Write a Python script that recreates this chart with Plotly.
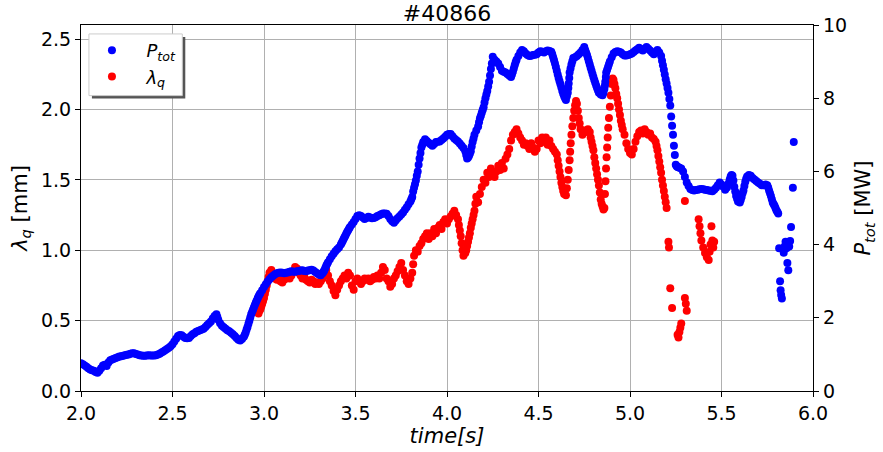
import plotly.graph_objects as go

# ---- P_tot (MW), right axis: (time [s], value) readings ----
ptot_pairs = [
    (2.00,0.76),(2.01,0.73),(2.02,0.70),(2.03,0.66),(2.04,0.62),(2.05,0.59),(2.06,0.57),(2.07,0.55),(2.08,0.52),(2.09,0.50),
    (2.10,0.55),(2.11,0.62),(2.12,0.70),(2.13,0.72),(2.14,0.68),(2.15,0.78),(2.16,0.84),(2.17,0.86),(2.18,0.88),(2.19,0.90),
    (2.20,0.92),(2.21,0.94),(2.22,0.95),(2.23,0.96),(2.24,0.98),(2.25,0.99),(2.26,1.00),(2.27,1.02),(2.28,1.03),(2.29,1.03),
    (2.30,1.01),(2.31,1.00),(2.32,0.98),(2.33,0.97),(2.34,0.96),(2.35,0.96),(2.36,0.97),(2.37,0.98),(2.38,0.97),(2.39,0.97),
    (2.40,0.97),(2.41,0.98),(2.42,1.00),(2.43,1.02),(2.44,1.05),(2.45,1.08),(2.46,1.11),(2.47,1.15),(2.48,1.18),(2.49,1.22),
    (2.50,1.28),(2.51,1.35),(2.52,1.43),(2.53,1.50),(2.54,1.53),(2.55,1.52),(2.56,1.48),(2.57,1.45),(2.58,1.44),(2.59,1.45),
    (2.60,1.50),(2.61,1.55),(2.62,1.58),(2.63,1.62),(2.64,1.64),(2.65,1.66),(2.66,1.68),(2.67,1.70),(2.68,1.75),(2.69,1.80),
    (2.70,1.85),(2.71,1.90),(2.72,1.98),(2.73,2.05),(2.74,2.10),(2.745,2.02),(2.75,1.95),(2.76,1.85),(2.77,1.78),(2.78,1.74),
    (2.79,1.70),(2.80,1.66),(2.81,1.63),(2.82,1.59),(2.83,1.55),(2.84,1.50),(2.85,1.45),(2.86,1.40),(2.87,1.38),(2.88,1.42),
    (2.89,1.48),(2.895,1.54),(2.90,1.60),(2.905,1.68),(2.91,1.75),(2.915,1.84),(2.92,1.92),(2.925,2.01),(2.93,2.10),(2.935,2.16),
    (2.94,2.22),(2.945,2.29),(2.95,2.35),(2.955,2.41),(2.96,2.47),(2.965,2.53),(2.97,2.58),(2.975,2.63),(2.98,2.67),(2.99,2.75),
    (3.00,2.84),(3.01,2.92),(3.02,2.99),(3.03,3.05),(3.04,3.11),(3.05,3.15),(3.06,3.19),(3.07,3.22),(3.08,3.23),(3.09,3.24),
    (3.10,3.23),(3.11,3.22),(3.12,3.23),(3.13,3.24),(3.14,3.26),(3.15,3.27),(3.16,3.26),(3.17,3.26),(3.18,3.27),(3.19,3.28),
    (3.20,3.29),(3.21,3.30),(3.22,3.28),(3.23,3.27),(3.24,3.29),(3.25,3.30),(3.26,3.31),(3.27,3.29),(3.28,3.25),(3.29,3.22),
    (3.30,3.18),(3.31,3.16),(3.32,3.22),(3.325,3.26),(3.33,3.30),(3.335,3.36),(3.34,3.42),(3.345,3.47),(3.35,3.52),(3.36,3.60),
    (3.37,3.68),(3.38,3.75),(3.39,3.82),(3.40,3.87),(3.41,3.92),(3.42,4.00),(3.425,4.05),(3.43,4.10),(3.435,4.15),(3.44,4.20),
    (3.445,4.25),(3.45,4.30),(3.455,4.35),(3.46,4.39),(3.465,4.44),(3.47,4.48),(3.48,4.55),(3.49,4.62),(3.50,4.70),(3.51,4.78),
    (3.52,4.80),(3.53,4.78),(3.54,4.74),(3.55,4.70),(3.56,4.73),(3.57,4.76),(3.58,4.74),(3.59,4.72),(3.60,4.73),(3.61,4.75),
    (3.62,4.78),(3.63,4.80),(3.64,4.83),(3.65,4.85),(3.66,4.85),(3.67,4.84),(3.68,4.78),(3.69,4.70),(3.70,4.64),(3.71,4.60),
    (3.72,4.66),(3.73,4.72),(3.74,4.77),(3.75,4.82),(3.76,4.88),(3.77,4.95),(3.78,5.02),(3.79,5.10),(3.80,5.18),(3.805,5.24),
    (3.81,5.30),(3.815,5.45),(3.82,5.55),(3.825,5.65),(3.83,5.75),(3.835,5.88),(3.84,6.00),(3.845,6.18),(3.85,6.35),(3.855,6.50),
    (3.86,6.65),(3.865,6.73),(3.87,6.80),(3.88,6.88),(3.89,6.83),(3.90,6.78),(3.91,6.74),(3.92,6.70),(3.93,6.75),(3.94,6.80),
    (3.95,6.81),(3.96,6.82),(3.97,6.86),(3.98,6.90),(3.99,6.95),(4.00,7.00),(4.01,7.02),(4.02,7.02),(4.03,6.96),(4.04,6.90),
    (4.05,6.86),(4.06,6.82),(4.07,6.76),(4.08,6.70),(4.09,6.64),(4.10,6.55),(4.105,6.45),(4.11,6.35),(4.115,6.38),(4.12,6.42),
    (4.125,6.48),(4.13,6.55),(4.135,6.68),(4.14,6.80),(4.145,6.90),(4.15,7.00),(4.16,7.12),(4.17,7.23),(4.175,7.34),(4.18,7.45),
    (4.185,7.52),(4.19,7.60),(4.195,7.68),(4.20,7.75),(4.205,7.88),(4.21,8.00),(4.215,8.10),(4.22,8.20),(4.225,8.32),(4.23,8.45),
    (4.235,8.62),(4.24,8.80),(4.245,8.95),(4.25,9.13),(4.26,9.05),(4.27,9.00),(4.28,8.95),(4.29,8.85),(4.30,8.75),(4.31,8.72),
    (4.32,8.70),(4.33,8.66),(4.34,8.62),(4.35,8.58),(4.355,8.65),(4.36,8.72),(4.365,8.81),(4.37,8.90),(4.375,8.98),(4.38,9.05),
    (4.39,9.15),(4.40,9.25),(4.41,9.32),(4.42,9.28),(4.43,9.22),(4.44,9.18),(4.45,9.15),(4.46,9.16),(4.47,9.18),(4.48,9.19),
    (4.49,9.20),(4.50,9.25),(4.51,9.28),(4.52,9.27),(4.53,9.25),(4.54,9.28),(4.55,9.30),(4.56,9.29),(4.57,9.27),(4.575,9.20),
    (4.58,9.12),(4.585,9.04),(4.59,8.95),(4.595,8.85),(4.60,8.75),(4.605,8.65),(4.61,8.55),(4.615,8.46),(4.62,8.38),(4.625,8.29),
    (4.63,8.20),(4.635,8.12),(4.64,8.05),(4.645,8.00),(4.65,7.95),(4.655,8.05),(4.66,8.15),(4.663,8.28),(4.665,8.40),(4.668,8.55),
    (4.67,8.70),(4.675,8.81),(4.68,8.92),(4.685,9.01),(4.69,9.10),(4.70,9.12),(4.71,9.15),(4.72,9.20),(4.73,9.25),(4.74,9.32),
    (4.75,9.40),(4.755,9.32),(4.76,9.25),(4.765,9.18),(4.77,9.10),(4.775,9.01),(4.78,8.92),(4.785,8.83),(4.79,8.75),(4.795,8.66),
    (4.80,8.58),(4.805,8.50),(4.81,8.42),(4.815,8.35),(4.82,8.28),(4.825,8.21),(4.83,8.15),(4.84,8.10),(4.85,8.08),(4.855,8.15),
    (4.86,8.25),(4.863,8.35),(4.865,8.45),(4.868,8.58),(4.87,8.70),(4.875,8.78),(4.88,8.85),(4.885,8.93),(4.89,9.00),(4.90,9.12),
    (4.91,9.22),(4.92,9.26),(4.93,9.28),(4.94,9.27),(4.95,9.25),(4.96,9.20),(4.97,9.17),(4.98,9.17),(4.99,9.18),(5.00,9.20),
    (5.01,9.22),(5.02,9.26),(5.03,9.30),(5.04,9.34),(5.05,9.38),(5.06,9.33),(5.07,9.30),(5.08,9.35),(5.09,9.40),(5.10,9.35),
    (5.11,9.30),(5.12,9.25),(5.13,9.20),(5.14,9.26),(5.15,9.32),(5.16,9.25),(5.17,9.15),(5.175,9.02),(5.18,8.90),(5.185,8.78),
    (5.19,8.65),(5.195,8.52),(5.20,8.40),(5.205,8.28),(5.21,8.15),(5.215,7.98),(5.22,7.80),(5.225,7.50),(5.23,7.25),(5.235,7.00),
    (5.24,6.70),(5.245,6.45),(5.25,6.18),(5.255,6.14),(5.26,6.12),(5.265,6.11),(5.27,6.10),(5.28,6.08),(5.29,6.00),(5.30,5.85),
    (5.31,5.70),(5.32,5.60),(5.33,5.52),(5.34,5.49),(5.35,5.48),(5.36,5.49),(5.37,5.50),(5.38,5.51),(5.39,5.52),(5.40,5.51),
    (5.41,5.50),(5.42,5.49),(5.43,5.48),(5.44,5.47),(5.45,5.46),(5.46,5.50),(5.47,5.55),(5.48,5.62),(5.49,5.70),(5.50,5.64),
    (5.51,5.58),(5.52,5.50),(5.53,5.56),(5.54,5.68),(5.545,5.78),(5.55,5.86),(5.555,5.90),(5.56,5.88),(5.565,5.75),(5.57,5.58),
    (5.575,5.45),(5.58,5.33),(5.585,5.25),(5.59,5.18),(5.60,5.15),(5.605,5.22),(5.61,5.30),(5.615,5.40),(5.62,5.48),(5.625,5.60),
    (5.63,5.72),(5.635,5.80),(5.64,5.86),(5.65,5.90),(5.66,5.88),(5.67,5.82),(5.68,5.78),(5.69,5.74),(5.70,5.70),(5.71,5.66),
    (5.72,5.62),(5.73,5.62),(5.74,5.64),(5.75,5.62),(5.755,5.56),(5.76,5.48),(5.765,5.40),(5.77,5.33),(5.775,5.24),(5.78,5.15),
    (5.785,5.10),(5.79,5.06),(5.795,5.00),(5.80,4.94),(5.805,4.90),(5.81,4.85),
    (5.815,3.90),(5.82,3.00),(5.823,2.75),(5.826,2.62),(5.83,2.53),(5.84,3.78),(5.845,3.95),(5.85,4.08),(5.855,3.90),(5.86,3.50),
    (5.865,3.30),(5.87,3.95),(5.875,4.10),(5.88,4.48),(5.89,5.55),(5.895,6.80),
]
ptot_t = [p[0] for p in ptot_pairs]
ptot_mw = [p[1] for p in ptot_pairs]

# ---- lambda_q (mm), left axis: (time [s], value) readings ----
lam_pairs = [
    (2.97,0.55),(2.975,0.57),(2.98,0.58),(2.985,0.60),(2.99,0.62),(2.995,0.64),(3.00,0.66),(3.005,0.69),(3.01,0.72),(3.015,0.75),
    (3.02,0.78),(3.025,0.81),(3.03,0.84),(3.04,0.86),(3.05,0.82),(3.06,0.80),(3.07,0.79),(3.08,0.80),(3.09,0.78),(3.10,0.77),
    (3.11,0.79),(3.12,0.80),(3.13,0.81),(3.14,0.80),(3.15,0.82),(3.16,0.85),(3.17,0.88),(3.18,0.87),(3.19,0.84),(3.20,0.82),
    (3.21,0.80),(3.22,0.81),(3.23,0.79),(3.24,0.78),(3.25,0.77),(3.26,0.79),(3.27,0.78),(3.28,0.76),(3.29,0.77),(3.30,0.76),
    (3.31,0.78),(3.32,0.80),(3.33,0.83),(3.34,0.86),(3.35,0.82),(3.36,0.78),(3.37,0.75),(3.38,0.71),(3.39,0.68),(3.40,0.72),
    (3.41,0.75),(3.42,0.78),(3.43,0.80),(3.44,0.82),(3.45,0.80),(3.46,0.84),(3.47,0.82),(3.48,0.75),(3.49,0.72),(3.50,0.78),
    (3.51,0.80),(3.52,0.78),(3.53,0.76),(3.54,0.78),(3.55,0.80),(3.56,0.79),(3.57,0.80),(3.58,0.78),(3.59,0.79),(3.60,0.81),
    (3.61,0.80),(3.62,0.82),(3.63,0.80),(3.64,0.84),(3.65,0.88),(3.66,0.86),(3.67,0.80),(3.68,0.78),(3.69,0.74),(3.70,0.76),
    (3.71,0.80),(3.72,0.82),(3.73,0.85),(3.74,0.88),(3.75,0.91),(3.76,0.86),(3.77,0.82),(3.78,0.78),(3.79,0.76),(3.80,0.80),
    (3.81,0.84),(3.815,0.90),(3.82,0.96),(3.83,1.00),(3.84,0.99),(3.85,1.03),(3.86,1.05),(3.87,1.08),(3.88,1.10),(3.89,1.12),
    (3.90,1.08),(3.91,1.12),(3.92,1.10),(3.93,1.15),(3.94,1.12),(3.95,1.16),(3.96,1.18),(3.97,1.15),(3.98,1.20),(3.99,1.22),
    (4.00,1.19),(4.01,1.22),(4.02,1.24),(4.03,1.26),(4.04,1.28),(4.05,1.25),(4.06,1.22),(4.065,1.18),(4.07,1.14),(4.075,1.10),
    (4.08,1.05),(4.085,1.00),(4.09,0.96),(4.10,0.98),(4.105,1.00),(4.11,1.03),(4.115,1.06),(4.12,1.09),(4.125,1.12),(4.13,1.16),
    (4.135,1.19),(4.14,1.22),(4.145,1.25),(4.15,1.28),(4.155,1.33),(4.16,1.38),(4.17,1.34),(4.18,1.40),(4.19,1.45),(4.20,1.50),
    (4.21,1.48),(4.22,1.55),(4.23,1.52),(4.24,1.58),(4.25,1.55),(4.26,1.52),(4.27,1.56),(4.28,1.60),(4.29,1.57),(4.30,1.62),
    (4.31,1.58),(4.32,1.65),(4.33,1.68),(4.34,1.72),(4.35,1.78),(4.36,1.82),(4.37,1.84),(4.38,1.86),(4.39,1.83),(4.40,1.80),
    (4.41,1.78),(4.42,1.75),(4.43,1.76),(4.44,1.74),(4.45,1.72),(4.46,1.76),(4.47,1.73),(4.48,1.70),(4.49,1.72),(4.50,1.78),
    (4.51,1.76),(4.52,1.80),(4.53,1.77),(4.54,1.80),(4.55,1.75),(4.56,1.78),(4.57,1.74),(4.58,1.72),(4.59,1.70),(4.60,1.68),
    (4.605,1.64),(4.61,1.60),(4.615,1.56),(4.62,1.52),(4.625,1.48),(4.63,1.45),(4.635,1.42),(4.64,1.40),(4.65,1.39),(4.655,1.44),
    (4.66,1.50),(4.665,1.57),(4.67,1.64),(4.673,1.70),(4.676,1.76),(4.68,1.82),(4.685,1.88),(4.69,1.94),(4.695,1.99),(4.70,2.03),
    (4.705,2.06),(4.71,2.04),(4.715,1.99),(4.72,1.94),(4.725,1.90),(4.73,1.86),(4.74,1.82),(4.75,1.85),(4.76,1.84),(4.77,1.86),
    (4.78,1.84),(4.785,1.80),(4.79,1.77),(4.795,1.74),(4.80,1.71),(4.805,1.66),(4.81,1.62),(4.815,1.58),(4.82,1.54),(4.825,1.50),
    (4.83,1.46),(4.835,1.41),(4.84,1.36),(4.845,1.33),(4.85,1.31),(4.855,1.29),(4.86,1.30),(4.863,1.40),(4.866,1.49),(4.869,1.58),
    (4.872,1.66),(4.875,1.73),(4.878,1.80),(4.881,1.87),(4.885,1.94),(4.89,2.02),(4.895,2.10),(4.90,2.18),(4.905,2.22),(4.91,2.21),
    (4.915,2.18),(4.92,2.15),(4.925,2.11),(4.93,2.08),(4.935,2.04),(4.94,2.00),(4.945,1.96),(4.95,1.92),(4.955,1.89),(4.96,1.86),
    (4.97,1.82),(4.98,1.76),(4.99,1.72),(5.00,1.69),(5.01,1.68),(5.02,1.72),(5.03,1.77),(5.04,1.81),(5.05,1.84),(5.06,1.85),
    (5.07,1.83),(5.08,1.86),(5.09,1.84),(5.10,1.82),(5.11,1.83),(5.12,1.80),(5.13,1.79),(5.14,1.77),(5.145,1.74),(5.15,1.71),
    (5.155,1.67),(5.16,1.63),(5.165,1.59),(5.17,1.55),(5.175,1.50),(5.18,1.46),(5.185,1.42),(5.19,1.38),(5.195,1.34),(5.20,1.30),
    (5.21,1.06),(5.213,1.02),(5.22,0.73),(5.23,0.59),(5.26,0.40),(5.265,0.38),(5.27,0.42),(5.275,0.45),(5.28,0.48),
    (5.30,0.66),(5.305,0.62),(5.31,0.57),(5.30,1.35),
    (5.375,1.22),(5.38,1.17),(5.385,1.12),(5.39,1.07),(5.40,1.02),(5.41,0.98),(5.42,0.95),(5.43,0.93),(5.435,0.99),(5.44,1.04),
    (5.445,1.17),(5.45,1.07),(5.455,1.02),(5.46,1.06),
]
lam_t = [p[0] for p in lam_pairs]
lam_mm = [p[1] for p in lam_pairs]

shot_title = "#40866"
x_ticks = [2.0, 2.5, 3.0, 3.5, 4.0, 4.5, 5.0, 5.5, 6.0]
left_ticks = [0.0, 0.5, 1.0, 1.5, 2.0, 2.5]
right_ticks = [0, 2, 4, 6, 8, 10]

FONT = "DejaVu Sans"
W, H = 883, 452
ML, MR, MT, MB = 81, 65, 25, 59
PW, PH = W - ML - MR, H - MT - MB
TICK_FS, LABEL_FS, TITLE_FS, LEG_FS = 19, 21, 22, 18
MS = 8


def px_x(px):
    return (px - ML) / PW


def px_y(py):
    return (H - MB - py) / PH


fig = go.Figure()
fig.add_trace(go.Scatter(
    x=lam_t, y=lam_mm, mode="markers", name="&nbsp;&nbsp;<i>λ</i><sub><i>q</i></sub>",
    marker=dict(color="#ff0000", size=MS, line=dict(width=0)), yaxis="y", legendrank=2))
fig.add_trace(go.Scatter(
    x=ptot_t, y=ptot_mw, mode="markers", name="&nbsp;&nbsp;<i>P</i><sub><i>tot</i></sub>",
    marker=dict(color="#0000ff", size=MS, line=dict(width=0)), yaxis="y2", legendrank=1))

axis_common = dict(showline=True, linecolor="black", linewidth=1.2, ticks="outside",
                   ticklen=5, tickwidth=1.2, tickcolor="black",
                   tickfont=dict(family=FONT, size=TICK_FS, color="black"), zeroline=False)

fig.update_layout(
    width=W, height=H, margin=dict(l=ML, r=MR, t=MT, b=MB),
    plot_bgcolor="white", paper_bgcolor="white",
    font=dict(family=FONT, size=TICK_FS, color="black"),
    title=dict(text=shot_title, x=0.5, xref="paper", y=1 - 13 / H, yref="container",
               xanchor="center", yanchor="middle", font=dict(family=FONT, size=TITLE_FS)),
    xaxis=dict(range=[2.0, 6.0], tickvals=x_ticks, tickformat=".1f", mirror=True,
               showgrid=True, gridcolor="#b0b0b0", gridwidth=1,
               title=dict(text="<i>time[s]</i>", font=dict(family=FONT, size=LABEL_FS), standoff=1),
               **axis_common),
    yaxis=dict(range=[0, 2.6], tickvals=left_ticks, tickformat=".1f",
               showgrid=True, gridcolor="#b0b0b0", gridwidth=1,
               title=dict(text="<i>λ</i><sub><i>q</i></sub> [mm]", font=dict(family=FONT, size=LABEL_FS), standoff=7),
               **axis_common),
    yaxis2=dict(range=[0, 10], tickvals=right_ticks, overlaying="y", side="right",
                showgrid=False,
                title=dict(text="<i>P</i><sub><i>tot</i></sub> [MW]", font=dict(family=FONT, size=LABEL_FS), standoff=9),
                **axis_common),
    legend=dict(x=px_x(89), y=px_y(32),
                xanchor="left", yanchor="top", bgcolor="rgba(0,0,0,0)", borderwidth=0,
                font=dict(family=FONT, size=LEG_FS), itemsizing="trace", itemwidth=36, tracegroupgap=0),
    showlegend=True,
)

# legend frame with drop shadow (drawn under the legend entries)
fig.add_shape(type="rect", xref="paper", yref="paper",
              x0=px_x(92), x1=px_x(186), y0=px_y(99), y1=px_y(37),
              fillcolor="#555555", line=dict(width=0), layer="above")
fig.add_shape(type="rect", xref="paper", yref="paper",
              x0=px_x(89), x1=px_x(183), y0=px_y(96), y1=px_y(34),
              fillcolor="white", line=dict(color="#cccccc", width=1), layer="above")

fig.write_html("out.html")
